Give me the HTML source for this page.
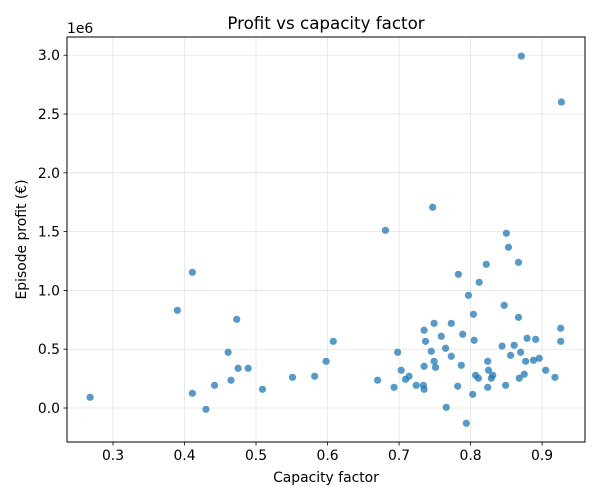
<!DOCTYPE html>
<html><head><meta charset="utf-8"><style>
body{margin:0;background:#fff}
svg{display:block;font-family:"DejaVu Sans","Liberation Sans",sans-serif}
</style></head><body>
<svg id="chart" width="600" height="500">
<rect width="600" height="500" fill="#fff"/>
<g id="grid"></g><g id="pts"></g><g id="axes"></g>
</svg>
<script>
const capacityFactor=[0.268,0.411,0.390,0.473,0.461,0.608,0.598,0.475,0.489,0.465,0.442,0.411,0.430,0.509,0.551,0.582,0.747,0.681,0.871,0.927,0.850,0.853,0.867,0.822,0.783,0.812,0.797,0.847,0.867,0.804,0.749,0.773,0.735,0.926,0.926,0.759,0.789,0.737,0.805,0.879,0.891,0.698,0.745,0.765,0.773,0.844,0.861,0.856,0.870,0.877,0.888,0.896,0.749,0.735,0.751,0.787,0.824,0.703,0.825,0.709,0.714,0.807,0.811,0.831,0.829,0.875,0.868,0.905,0.918,0.670,0.693,0.724,0.734,0.735,0.782,0.824,0.849,0.803,0.766,0.794];
const profitM=[0.091,1.154,0.831,0.754,0.474,0.567,0.397,0.338,0.338,0.236,0.193,0.125,-0.011,0.159,0.261,0.270,1.707,1.511,2.993,2.602,1.486,1.367,1.239,1.222,1.137,1.069,0.958,0.873,0.771,0.797,0.720,0.720,0.661,0.678,0.567,0.610,0.627,0.567,0.576,0.593,0.584,0.474,0.482,0.508,0.440,0.527,0.533,0.448,0.474,0.397,0.406,0.423,0.397,0.355,0.346,0.363,0.397,0.321,0.321,0.244,0.270,0.278,0.253,0.278,0.253,0.287,0.253,0.321,0.261,0.236,0.176,0.193,0.193,0.159,0.185,0.176,0.193,0.116,0.006,-0.130];
const xTicks=[0.3,0.4,0.5,0.6,0.7,0.8,0.9];
const yTicks=[0,0.5,1,1.5,2,2.5,3];
const L=67,R=585,T=37,B=442;
const xMin=0.2357,xMax=0.960,yMin=-0.289,yMax=3.155;
const X=v=>L+(v-xMin)/(xMax-xMin)*(R-L);
const Y=v=>B-(v-yMin)/(yMax-yMin)*(B-T);
const NS='http://www.w3.org/2000/svg';
function mk(tag,attrs,parent,text){const e=document.createElementNS(NS,tag);for(const k in attrs)e.setAttribute(k,attrs[k]);if(text!==undefined)e.textContent=text;parent.appendChild(e);return e;}
const grid=document.getElementById('grid'),pts=document.getElementById('pts'),axes=document.getElementById('axes');
xTicks.forEach(t=>{
 const g=mk('line',{x1:X(t),x2:X(t),y1:T,y2:B,stroke:'#b0b0b0','stroke-opacity':0.35,'stroke-width':0.8},grid);
 
 
 const tk=mk('line',{x1:X(t),x2:X(t),y1:B,y2:B+3.5,stroke:'#000','stroke-width':0.8},axes);
 
 
 const lb=mk('text',{x:X(t),y:B+18,'text-anchor':'middle','font-size':13.9,fill:'#000'},axes,t.toFixed(1));
 
 
});
yTicks.forEach(t=>{
 const g=mk('line',{x1:L,x2:R,y1:Y(t),y2:Y(t),stroke:'#b0b0b0','stroke-opacity':0.35,'stroke-width':0.8},grid);
 
 
 const tk=mk('line',{x1:L-3.5,x2:L,y1:Y(t),y2:Y(t),stroke:'#000','stroke-width':0.8},axes);
 
 
 const lb=mk('text',{x:L-7,y:Y(t)+5,'text-anchor':'end','font-size':13.9,fill:'#000'},axes,t.toFixed(1));
 
 
});
capacityFactor.forEach((v,i)=>{
 const c=mk('circle',{cx:X(v),cy:Y(profitM[i]),r:3.6,fill:'#1f77b4','fill-opacity':0.75},pts);
 
 
});
const fr=mk('rect',{x:L,y:T,width:R-L,height:B-T,fill:'none',stroke:'#000','stroke-width':1},axes);


const ti=mk('text',{x:(L+R)/2,y:29,'text-anchor':'middle','font-size':16.7,fill:'#000'},axes,'Profit vs capacity factor');


const xt=mk('text',{x:(L+R)/2,y:482,'text-anchor':'middle','font-size':13.9,fill:'#000'},axes,'Capacity factor');


const yt=mk('text',{x:0,y:0,'text-anchor':'middle','font-size':13.9,fill:'#000',transform:'translate(26,'+((T+B)/2)+') rotate(-90)'},axes,'Episode profit (€)');


const off=mk('text',{x:L,y:33,'font-size':13.9,fill:'#000'},axes,'1e6');


</script>
</body></html>
